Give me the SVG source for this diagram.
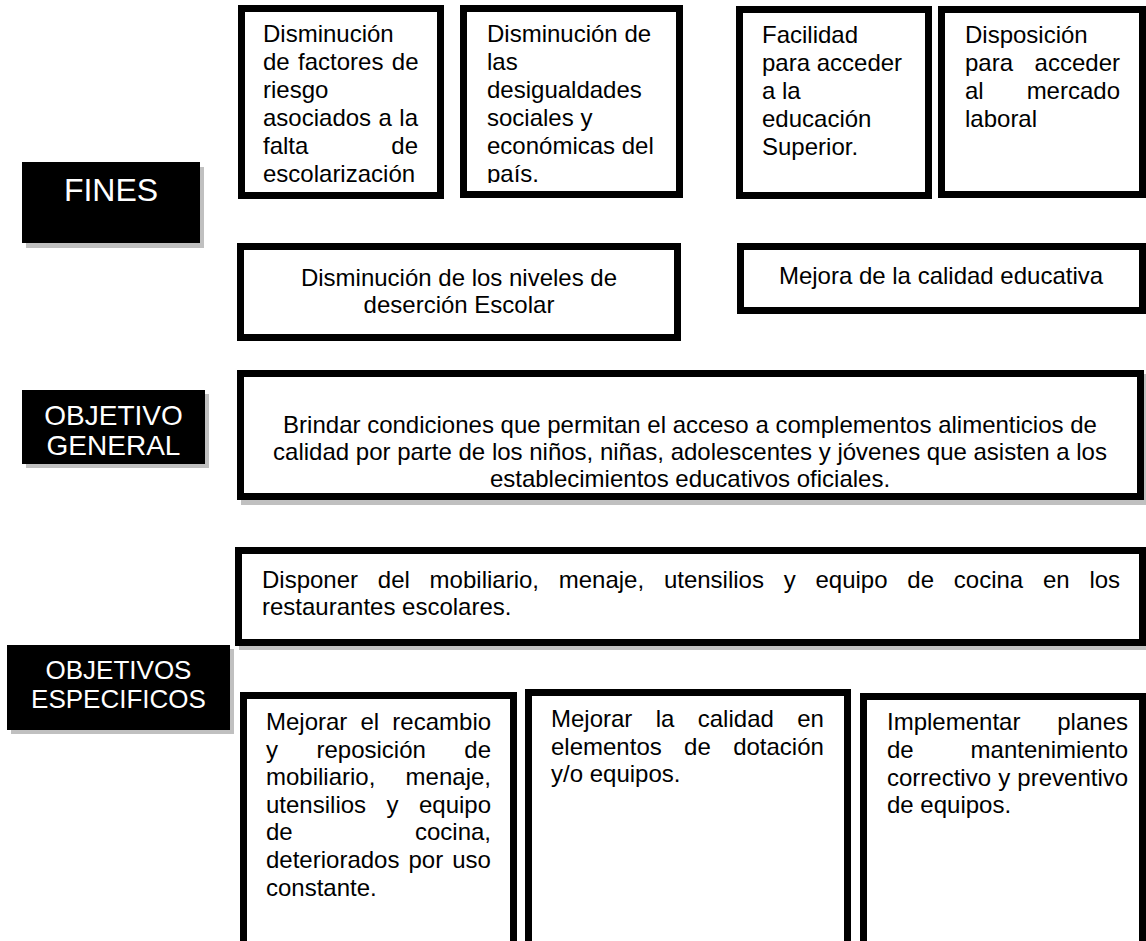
<svg xmlns="http://www.w3.org/2000/svg" width="1146" height="941" viewBox="0 0 1146 941">
<style>
.box{fill:#fff;stroke:#000;stroke-width:7}
.lbl{fill:#000}
.sh{fill:#c0c0c0}
.t{font-family:"Liberation Sans",Arial,sans-serif;font-size:24px;fill:#000}
.w{font-family:"Liberation Sans",Arial,sans-serif;fill:#fff;text-anchor:middle}
.c{text-anchor:middle}
.e{text-anchor:end}
</style>
<defs>
<clipPath id="clip2"><rect x="460" y="0" width="230" height="183"/></clipPath>
</defs>
<rect width="1146" height="941" fill="#fff"/>

<g id="fines">
<rect class="sh" x="26" y="167" width="178" height="81"/>
<rect class="lbl" x="22" y="162" width="178" height="81"/>
<text class="w" x="111" y="201" font-size="32">FINES</text>
</g>

<g id="objetivo-general">
<rect class="sh" x="26" y="394" width="183" height="74"/>
<rect class="lbl" x="22" y="390" width="183" height="74"/>
<text class="w" x="113.5" y="425" font-size="28">OBJETIVO</text>
<text class="w" x="113.5" y="455" font-size="28">GENERAL</text>
</g>

<g id="objetivos-especificos">
<rect class="sh" x="11" y="649" width="223" height="85"/>
<rect class="lbl" x="7" y="645" width="223" height="85"/>
<text class="w" x="118.5" y="679" font-size="26">OBJETIVOS</text>
<text class="w" x="118.5" y="708" font-size="26">ESPECIFICOS</text>
</g>

<g id="fin1">
<rect class="box" x="241.5" y="8.5" width="199" height="187"/>
<text class="t" x="263" y="42">Disminución</text>
<text class="t" x="263" y="70" word-spacing="1.7">de factores de</text>
<text class="t" x="263" y="98">riesgo</text>
<text class="t" x="263" y="126" word-spacing="0.8">asociados a la</text>
<text class="t" x="263" y="154">falta</text>
<text class="t e" x="418" y="154">de</text>
<text class="t" x="263" y="182">escolarización</text>
</g>

<g id="fin2">
<rect class="box" x="463.5" y="8.5" width="216" height="186"/>
<g clip-path="url(#clip2)">
<text class="t" x="487" y="42">Disminución de</text>
<text class="t" x="487" y="70">las</text>
<text class="t" x="487" y="98">desigualdades</text>
<text class="t" x="487" y="126">sociales y</text>
<text class="t" x="487" y="154">económicas del</text>
<text class="t" x="487" y="182">país.</text>
</g>
</g>

<g id="fin3">
<rect class="box" x="739.5" y="9.5" width="189" height="186"/>
<text class="t" x="762" y="43">Facilidad</text>
<text class="t" x="762" y="71">para acceder</text>
<text class="t" x="762" y="99">a la</text>
<text class="t" x="762" y="127">educación</text>
<text class="t" x="762" y="155">Superior.</text>
</g>

<g id="fin4">
<rect class="box" x="941.5" y="9.5" width="201" height="185"/>
<text class="t" x="965" y="43">Disposición</text>
<text class="t" x="965" y="71">para</text>
<text class="t e" x="1120" y="71">acceder</text>
<text class="t" x="965" y="99">al</text>
<text class="t e" x="1120" y="99">mercado</text>
<text class="t" x="965" y="127">laboral</text>
</g>

<g id="fin5">
<rect class="box" x="240.5" y="246.5" width="437" height="91"/>
<text class="t c" x="459" y="286">Disminución de los niveles de</text>
<text class="t c" x="459" y="313">deserción Escolar</text>
</g>

<g id="fin6">
<rect class="box" x="740.5" y="246.5" width="402" height="64"/>
<text class="t c" x="941" y="284">Mejora de la calidad educativa</text>
</g>

<g id="objetivo-general-box">
<rect class="sh" x="241" y="374" width="905" height="131"/>
<rect class="box" x="240.5" y="373.5" width="900" height="123"/>
<text class="t c" x="690" y="433">Brindar condiciones que permitan el acceso a complementos alimenticios de</text>
<text class="t c" x="690" y="460">calidad por parte de los niños, niñas, adolescentes y jóvenes que asisten a los</text>
<text class="t c" x="690" y="487">establecimientos educativos oficiales.</text>
</g>

<g id="especifico-general">
<rect class="sh" x="239" y="551" width="907" height="99"/>
<rect class="box" x="238.5" y="550.5" width="904" height="92"/>
<text class="t" x="262" y="588" word-spacing="13.1">Disponer del mobiliario, menaje, utensilios y equipo de cocina en los</text>
<text class="t" x="262" y="615">restaurantes escolares.</text>
</g>

<g id="esp1">
<rect class="box" x="243.5" y="695.5" width="270" height="260"/>
<text class="t" x="266" y="730" word-spacing="6.5">Mejorar el recambio</text>
<text class="t" x="266" y="758" word-spacing="31.8">y reposición de</text>
<text class="t" x="266" y="785">mobiliario,</text>
<text class="t e" x="491" y="785">menaje,</text>
<text class="t" x="266" y="813" word-spacing="13.8">utensilios y equipo</text>
<text class="t" x="266" y="840">de</text>
<text class="t e" x="491" y="840">cocina,</text>
<text class="t" x="266" y="868" word-spacing="2.4">deteriorados por uso</text>
<text class="t" x="266" y="896">constante.</text>
</g>

<g id="esp2">
<rect class="box" x="528.5" y="692.5" width="319" height="260"/>
<text class="t" x="551" y="727" word-spacing="16.7">Mejorar la calidad en</text>
<text class="t" x="551" y="755" word-spacing="15.7">elementos de dotación</text>
<text class="t" x="551" y="782">y/o equipos.</text>
</g>

<g id="esp3">
<rect class="box" x="863.5" y="696.5" width="279" height="260"/>
<text class="t" x="887" y="730">Implementar</text>
<text class="t e" x="1128" y="730">planes</text>
<text class="t" x="887" y="758">de</text>
<text class="t e" x="1128" y="758">mantenimiento</text>
<text class="t" x="887" y="786" word-spacing="0.5">correctivo y preventivo</text>
<text class="t" x="887" y="813">de equipos.</text>
</g>

<g id="connectors"></g>
</svg>
